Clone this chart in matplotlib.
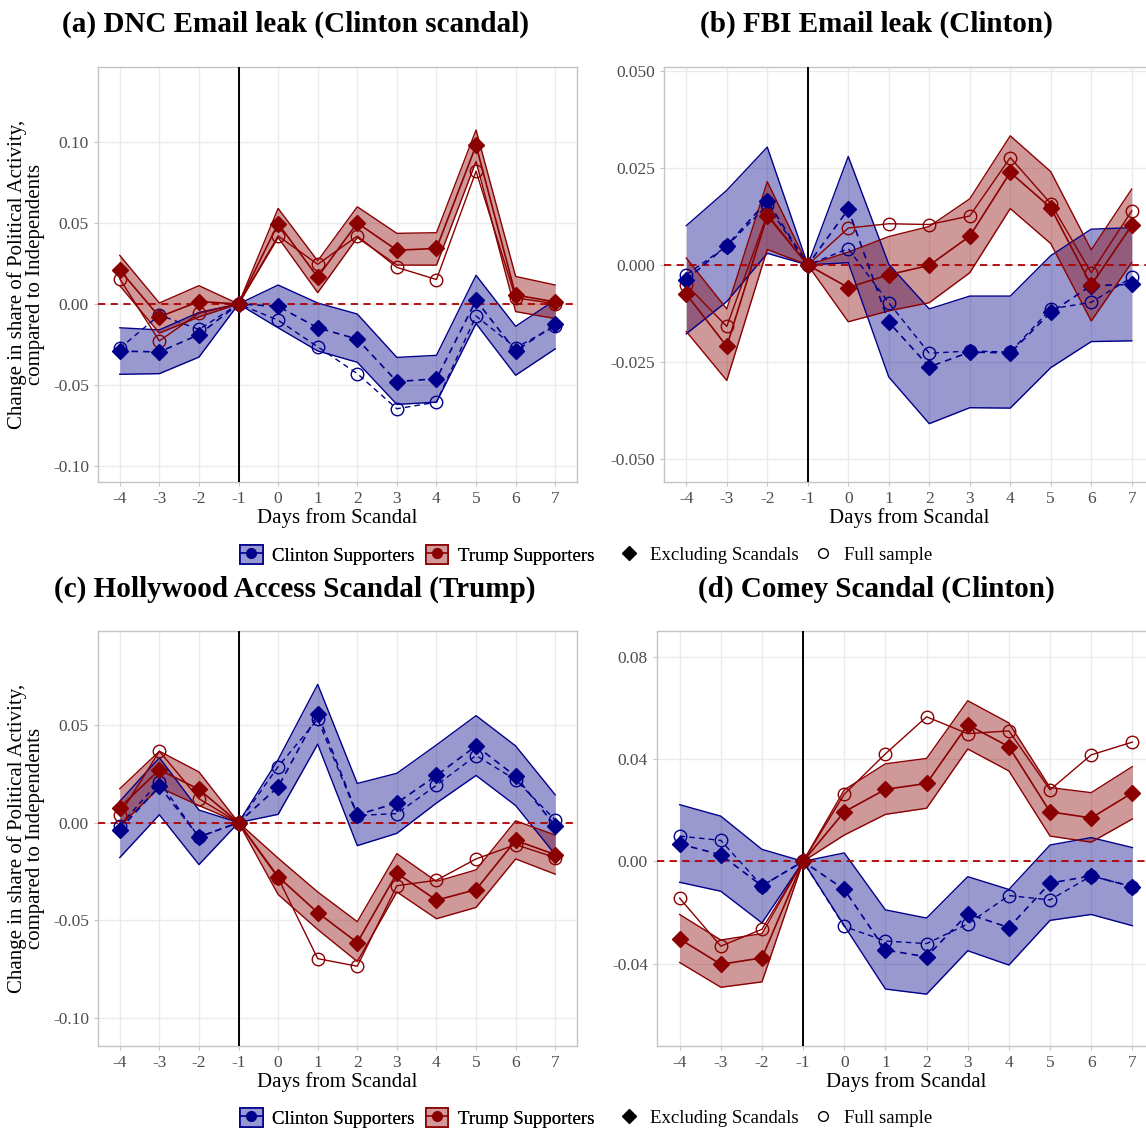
import matplotlib
matplotlib.use("Agg")
import matplotlib.pyplot as plt
from matplotlib.lines import Line2D
from matplotlib.patches import Patch
from matplotlib.legend_handler import HandlerTuple

days = [-4, -3, -2, -1, 0, 1, 2, 3, 4, 5, 6, 7]

titles = ["(a) DNC Email leak (Clinton scandal)",
          "(b) FBI Email leak (Clinton)",
          "(c) Hollywood Access Scandal (Trump)",
          "(d) Comey Scandal (Clinton)"]

# ---------- Panel (a) ----------
a_cl_ex = [-0.0291, -0.0296, -0.0189, 0, -0.0015, -0.0147, -0.0217, -0.0479, -0.0462, 0.0023, -0.0291, -0.0126]
a_cl_lo = [-0.0434, -0.0430, -0.0328, 0, -0.0147, -0.0290, -0.0360, -0.0620, -0.0606, -0.0121, -0.0440, -0.0277]
a_cl_hi = [-0.0147, -0.0160, -0.0052, 0, 0.0117, 0.0006, -0.0062, -0.0330, -0.0317, 0.0177, -0.0138, 0.0025]
a_cl_full = [-0.0274, -0.0068, -0.0157, 0, -0.0100, -0.0264, -0.0430, -0.0647, -0.0606, -0.0074, -0.0270, -0.0138]
a_tr_ex = [0.0209, -0.0079, 0.0015, 0, 0.0496, 0.0166, 0.0500, 0.0332, 0.0343, 0.0979, 0.0055, 0.0013]
a_tr_lo = [0.0113, -0.0180, -0.0080, 0, 0.0410, 0.0070, 0.0410, 0.0240, 0.0240, 0.0880, -0.0047, -0.0090]
a_tr_hi = [0.0300, 0.0006, 0.0113, 0, 0.0590, 0.0266, 0.0600, 0.0436, 0.0440, 0.1074, 0.0170, 0.0117]
a_tr_full = [0.0155, -0.0228, -0.0057, 0, 0.0420, 0.0245, 0.0419, 0.0226, 0.0151, 0.0820, 0.0038, 0.0002]

# ---------- Panel (b) ----------
b_cl_ex = [-0.0038, 0.0050, 0.0165, 0, 0.0143, -0.0147, -0.0262, -0.0224, -0.0226, -0.0122, -0.0053, -0.0050]
b_cl_lo = [-0.0177, -0.0094, 0.0030, 0, 0.0006, -0.0288, -0.0408, -0.0367, -0.0368, -0.0264, -0.0197, -0.0195]
b_cl_hi = [0.0101, 0.0192, 0.0303, 0, 0.0279, 0.0002, -0.0113, -0.0080, -0.0080, 0.0024, 0.0092, 0.0096]
b_cl_full = [-0.0025, 0.0048, 0.0154, 0, 0.0042, -0.0097, -0.0227, -0.0221, -0.0224, -0.0113, -0.0096, -0.0032]
b_tr_ex = [-0.0075, -0.0209, 0.0127, 0, -0.0058, -0.0025, -0.0001, 0.0074, 0.0238, 0.0147, -0.0052, 0.0102]
b_tr_lo = [-0.0171, -0.0297, 0.0040, 0, -0.0146, -0.0118, -0.0097, -0.0020, 0.0145, 0.0055, -0.0144, 0.0006]
b_tr_hi = [0.0018, -0.0113, 0.0214, 0, 0.0033, 0.0073, 0.0099, 0.0170, 0.0332, 0.0240, 0.0039, 0.0195]
b_tr_full = [-0.0051, -0.0158, 0.0130, 0, 0.0095, 0.0106, 0.0104, 0.0126, 0.0276, 0.0158, -0.0020, 0.0139]

# ---------- Panel (c) ----------
c_cl_ex = [-0.0036, 0.0186, -0.0073, 0, 0.0182, 0.0556, 0.0040, 0.0100, 0.0241, 0.0392, 0.0237, -0.0018]
c_cl_lo = [-0.0179, 0.0040, -0.0215, 0, 0.0042, 0.0401, -0.0118, -0.0055, 0.0100, 0.0241, 0.0087, -0.0164]
c_cl_hi = [0.0109, 0.0332, 0.0064, 0, 0.0322, 0.0707, 0.0200, 0.0252, 0.0397, 0.0547, 0.0392, 0.0142]
c_cl_full = [-0.0015, 0.0210, -0.0075, 0, 0.0286, 0.0529, 0.0036, 0.0046, 0.0191, 0.0343, 0.0219, 0.0013]
c_tr_ex = [0.0077, 0.0270, 0.0170, 0, -0.0277, -0.0461, -0.0614, -0.0259, -0.0397, -0.0343, -0.0091, -0.0164]
c_tr_lo = [-0.0018, 0.0179, 0.0087, 0, -0.0368, -0.0547, -0.0711, -0.0355, -0.0492, -0.0434, -0.0186, -0.0264]
c_tr_hi = [0.0173, 0.0365, 0.0259, 0, -0.0182, -0.0355, -0.0507, -0.0159, -0.0301, -0.0242, 0.0009, -0.0064]
c_tr_full = [0.0040, 0.0365, 0.0122, 0, -0.0283, -0.0696, -0.0735, -0.0323, -0.0295, -0.0186, -0.0113, -0.0179]

# ---------- Panel (d) ----------
d_cl_ex = [0.0068, 0.0026, -0.0096, 0, -0.0110, -0.0347, -0.0374, -0.0206, -0.0259, -0.0085, -0.0057, -0.0099]
d_cl_lo = [-0.0082, -0.0117, -0.0241, 0, -0.0252, -0.0500, -0.0520, -0.0350, -0.0406, -0.0231, -0.0208, -0.0252]
d_cl_hi = [0.0222, 0.0177, 0.0047, 0, 0.0033, -0.0190, -0.0222, -0.0060, -0.0110, 0.0064, 0.0093, 0.0054]
d_cl_full = [0.0099, 0.0082, -0.0096, 0, -0.0255, -0.0312, -0.0322, -0.0245, -0.0134, -0.0151, -0.0057, -0.0099]
d_tr_ex = [-0.0304, -0.0403, -0.0378, 0, 0.0194, 0.0282, 0.0305, 0.0535, 0.0449, 0.0194, 0.0170, 0.0268]
d_tr_lo = [-0.0396, -0.0493, -0.0472, 0, 0.0103, 0.0184, 0.0208, 0.0440, 0.0354, 0.0099, 0.0075, 0.0166]
d_tr_hi = [-0.0208, -0.0308, -0.0283, 0, 0.0280, 0.0382, 0.0403, 0.0629, 0.0542, 0.0289, 0.0269, 0.0371]
d_tr_full = [-0.0144, -0.0332, -0.0266, 0, 0.0263, 0.0421, 0.0566, 0.0500, 0.0511, 0.0280, 0.0417, 0.0467]

y_ticks = {
    "a": [-0.10, -0.05, 0.00, 0.05, 0.10],
    "b": [-0.050, -0.025, 0.000, 0.025, 0.050],
    "c": [-0.10, -0.05, 0.00, 0.05],
    "d": [-0.04, 0.00, 0.04, 0.08],
}
y_fmt = {"a": "{:.2f}", "b": "{:.3f}", "c": "{:.2f}", "d": "{:.2f}"}
y_lims = {"a": (-0.1099, 0.1463), "b": (-0.0558, 0.0509),
          "c": (-0.1143, 0.0980), "d": (-0.0723, 0.0902)}

panels = {
    "a": (a_cl_ex, a_cl_lo, a_cl_hi, a_cl_full, a_tr_ex, a_tr_lo, a_tr_hi, a_tr_full),
    "b": (b_cl_ex, b_cl_lo, b_cl_hi, b_cl_full, b_tr_ex, b_tr_lo, b_tr_hi, b_tr_full),
    "c": (c_cl_ex, c_cl_lo, c_cl_hi, c_cl_full, c_tr_ex, c_tr_lo, c_tr_hi, c_tr_full),
    "d": (d_cl_ex, d_cl_lo, d_cl_hi, d_cl_full, d_tr_ex, d_tr_lo, d_tr_hi, d_tr_full),
}

BLUE = "#00008B"
RED = "#8B0000"
BLUE_FILL = "#9999D1"
RED_FILL = "#D19999"
SERIF = ["Liberation Serif", "DejaVu Serif"]
plt.rcParams["font.family"] = SERIF

W, H = 1146, 1128
fig = plt.figure(figsize=(W / 100, H / 100), dpi=100)


def px_axes(left, top, right, bottom):
    return fig.add_axes([left / W, 1 - bottom / H, (right - left) / W, (bottom - top) / H])


axes_pos = {
    "a": (98, 67, 577, 482),
    "b": (664, 67, 1154, 482),
    "c": (98, 631, 577, 1046),
    "d": (657, 631, 1155, 1046),
}
title_pos = {"a": (295, 24), "b": (876, 24), "c": (295, 589), "d": (876, 589)}

for key, title in zip(["a", "b", "c", "d"], titles):
    cl_ex, cl_lo, cl_hi, cl_full, tr_ex, tr_lo, tr_hi, tr_full = panels[key]
    ax = px_axes(*axes_pos[key])
    ax.set_facecolor("white")
    ax.set_xlim(-4.55, 7.55)
    ax.set_ylim(*y_lims[key])
    ax.set_xticks(days)
    ax.set_xticklabels([str(d) for d in days])
    ax.set_yticks(y_ticks[key])
    ax.set_yticklabels([y_fmt[key].format(v) for v in y_ticks[key]])
    ax.grid(True, color="#EBEBEB", linewidth=1.0, zorder=0)
    ax.set_axisbelow(True)
    for s in ax.spines.values():
        s.set_color("#C4C4C4")
        s.set_linewidth(1.0)
    ax.tick_params(axis="both", colors="#C4C4C4", labelcolor="#4D4D4D",
                   labelsize=12.5, length=3, width=0.8)
    ax.set_xlabel("Days from Scandal", fontsize=15, labelpad=1, color="black")
    if key in ("a", "c"):
        ax.set_ylabel("Change in share of Political Activity,\ncompared to Independents",
                      fontsize=15, labelpad=6, color="black", linespacing=0.9)

    # ribbons
    ax.fill_between(days, cl_lo, cl_hi, color=BLUE, alpha=0.4, linewidth=0, zorder=2)
    ax.plot(days, cl_lo, color=BLUE, lw=1.0, zorder=3)
    ax.plot(days, cl_hi, color=BLUE, lw=1.0, zorder=3)
    ax.fill_between(days, tr_lo, tr_hi, color=RED, alpha=0.4, linewidth=0, zorder=2)
    ax.plot(days, tr_lo, color=RED, lw=1.0, zorder=3)
    ax.plot(days, tr_hi, color=RED, lw=1.0, zorder=3)

    ax.axhline(0, color="#B00000", lw=1.3, ls=(0, (4, 3)), zorder=4)
    ax.axvline(-1, color="black", lw=1.4, zorder=4)

    dash = (0, (4, 3))
    ax.plot(days, cl_full, color=BLUE, lw=1.0, ls=dash, marker="o", ms=9,
            mfc="none", mec=BLUE, mew=1.0, zorder=5)
    ax.plot(days, cl_ex, color=BLUE, lw=1.2, ls=dash, marker="D", ms=8.5,
            mfc=BLUE, mec=BLUE, zorder=6)
    ax.plot(days, tr_full, color=RED, lw=1.0, ls="-", marker="o", ms=9,
            mfc="none", mec=RED, mew=1.0, zorder=5)
    ax.plot(days, tr_ex, color=RED, lw=1.2, ls="-", marker="D", ms=8.5,
            mfc=RED, mec=RED, zorder=6)

    tx, ty = title_pos[key]
    fig.text(tx / W, 1 - ty / H, title, ha="center", va="center",
             fontsize=21, fontweight="bold", family=SERIF)

# legends
for ly in (555, 1118):
    h_cl = (Patch(facecolor=BLUE_FILL, edgecolor=BLUE, linewidth=1.2),
            Line2D([], [], color=BLUE, marker="o", ms=7, lw=1.2))
    h_tr = (Patch(facecolor=RED_FILL, edgecolor=RED, linewidth=1.2),
            Line2D([], [], color=RED, marker="o", ms=7, lw=1.2))
    leg1 = fig.legend([h_cl, h_tr], ["Clinton Supporters", "Trump Supporters"],
                      handler_map={tuple: HandlerTuple(ndivide=1, pad=0)},
                      loc="center", bbox_to_anchor=(417 / W, 1 - ly / H), ncol=2,
                      frameon=False, fontsize=13.5, handlelength=1.2, handleheight=1.2,
                      handletextpad=0.5, columnspacing=0.6, borderaxespad=0)
    h_ex = Line2D([], [], color="black", marker="D", ms=7, lw=0)
    h_fu = Line2D([], [], color="black", marker="o", ms=7, lw=0, mfc="none")
    leg2 = fig.legend([h_ex, h_fu], ["Excluding Scandals", "Full sample"],
                      loc="center", bbox_to_anchor=(776 / W, 1 - ly / H), ncol=2,
                      frameon=False, fontsize=13.5, handlelength=1.0,
                      handletextpad=0.6, columnspacing=0.8, borderaxespad=0)
    fig.add_artist(leg1)

fig.savefig("out.png", dpi=100)
